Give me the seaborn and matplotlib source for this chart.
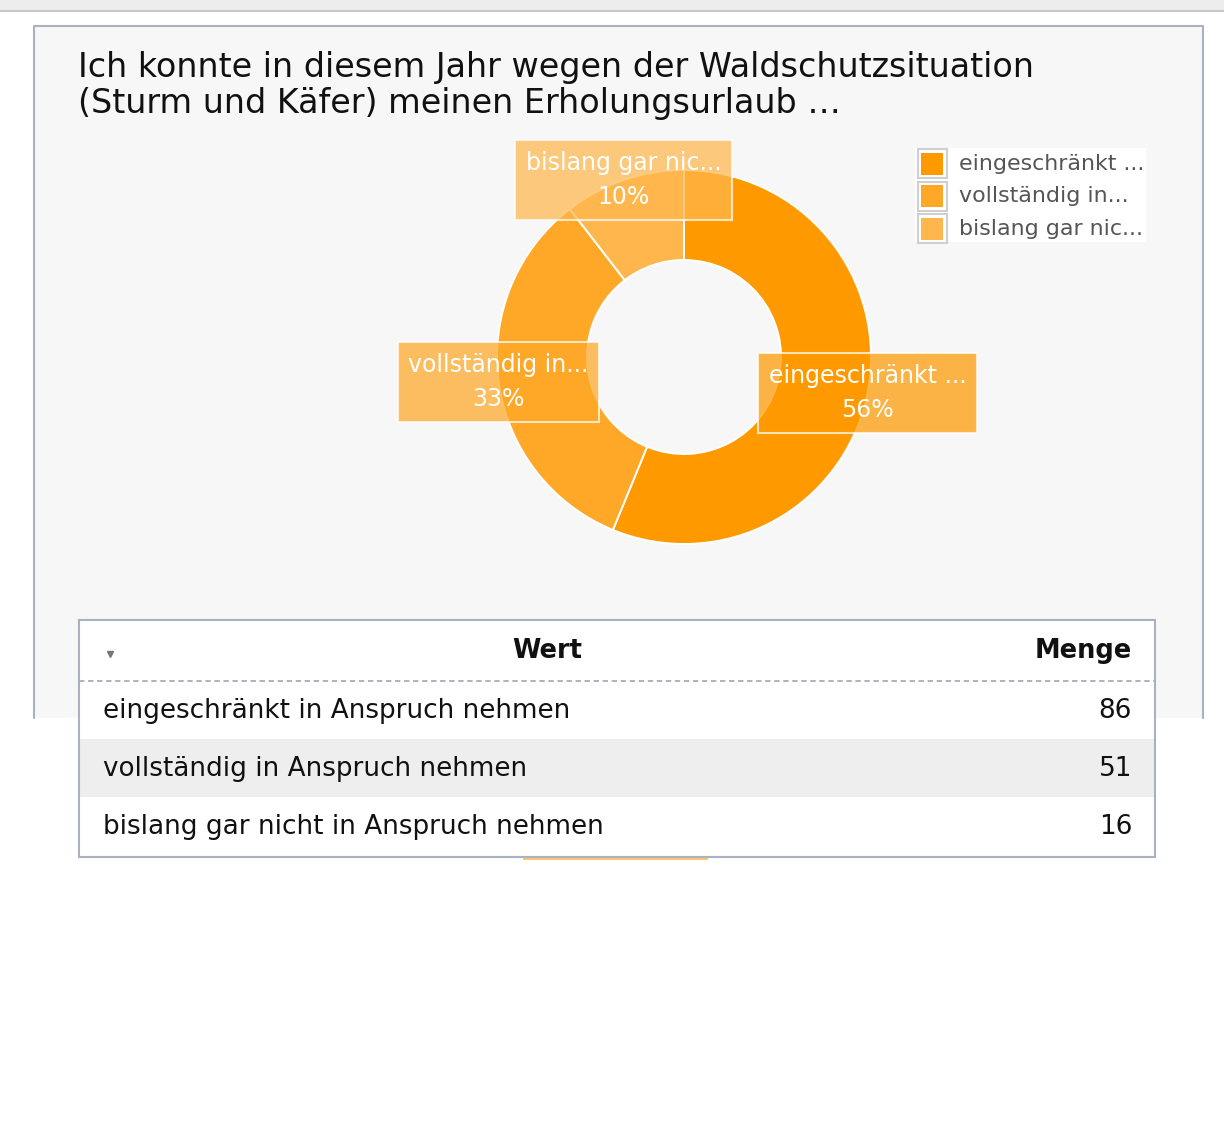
import numpy as np
import matplotlib
matplotlib.use("Agg")
import matplotlib.pyplot as plt
import seaborn as sns
from matplotlib.patches import Rectangle

# ---------------- data ----------------
categories = ["eingeschränkt in Anspruch nehmen",
              "vollständig in Anspruch nehmen",
              "bislang gar nicht in Anspruch nehmen"]
short_labels = ["eingeschränkt ...", "vollständig in...", "bislang gar nic..."]
counts = [86, 51, 16]
col_headers = ["Wert", "Menge"]
title_lines = ["Ich konnte in diesem Jahr wegen der Waldschutzsituation",
               "(Sturm und Käfer) meinen Erholungsurlaub …"]

# ---------------- style ----------------
sns.set_theme(style="white")
plt.rcParams['font.family'] = ['DejaVu Sans']
palette = sns.color_palette(["#ff9900", "#ffa726", "#ffb74d"])

W, H = 1224, 1134
fig = plt.figure(figsize=(W / 100, H / 100), dpi=100)
fig.patch.set_facecolor('white')


def pix_axes(x0, y0, x1, y1, z):
    return fig.add_axes([x0 / W, 1 - y1 / H, (x1 - x0) / W, (y1 - y0) / H], zorder=z)


# background / panel
bg = fig.add_axes([0, 0, 1, 1], zorder=0)
bg.set_xlim(0, W); bg.set_ylim(H, 0); bg.axis('off')
bg.add_patch(Rectangle((0, 0), W, 10, facecolor='#ededed', edgecolor='none'))
bg.plot([0, W], [10.5, 10.5], color='#c8c8c8', lw=1.5)
bg.add_patch(Rectangle((33, 25), 1170, 693, facecolor='#f7f7f7', edgecolor='none'))
bg.plot([33.5, 33.5, 1202.5, 1202.5], [718, 25.5, 25.5, 718], color='#aab1c0', lw=1.5)
for i, line in enumerate(title_lines):
    bg.text(78, 67.5 + 36 * i, line, fontsize=24, color='#111111', ha='left', va='center')

# ---------------- donut ----------------
cx, cy, R, r_in = 684, 357, 187, 97
pax = pix_axes(cx - R, cy - R, cx + R, cy + R, 1)
pax.axis('off')
pax.pie(counts, colors=palette, startangle=90, counterclock=False, radius=1.0,
        wedgeprops=dict(width=(R - r_in) / R, edgecolor='white', linewidth=1.4))
pax.set_xlim(-1, 1); pax.set_ylim(-1, 1)

total = float(sum(counts))
cum = np.cumsum(counts)
for i, (lab, v) in enumerate(zip(short_labels, counts)):
    mid = np.deg2rad(90 - 360 * (cum[i] - v / 2) / total)
    pct = int(round(100 * v / total))
    pax.text(np.cos(mid), np.sin(mid), f"{lab}\n{pct}%", ha='center', va='center',
             color='white', fontsize=17, linespacing=1.55, zorder=5,
             bbox=dict(boxstyle='square,pad=0.45', facecolor=palette[i], alpha=0.72,
                       edgecolor='white', linewidth=1.5))

# ---------------- overlay: legend + table ----------------
ov = fig.add_axes([0, 0, 1, 1], zorder=2)
ov.set_xlim(0, W); ov.set_ylim(H, 0); ov.axis('off')
ov.patch.set_alpha(0)

# legend
ov.add_patch(Rectangle((915, 148), 231, 94, facecolor='white', edgecolor='none'))
for i, lab in enumerate(short_labels):
    yc = 163 + 32.5 * i
    ov.add_patch(Rectangle((917.5, yc - 14), 29, 29, facecolor='white', edgecolor='#cfcfcf', lw=1.5))
    ov.add_patch(Rectangle((921, yc - 10.5), 22, 22, facecolor=palette[i], edgecolor='none'))
    ov.text(959, yc + 1, lab, fontsize=15.9, color='#555555', ha='left', va='center')

# artifact under table
ov.add_patch(Rectangle((523, 856), 185, 4, facecolor='#ffc46e', edgecolor='none'))

# table
tx0, ty0, tx1, ty1 = 79, 620, 1155, 857
ov.add_patch(Rectangle((tx0, ty0), tx1 - tx0, ty1 - ty0, facecolor='white', edgecolor='none'))
row_h = 58
rows_top = 681
for i, (cat, n) in enumerate(zip(categories, counts)):
    y0 = rows_top + row_h * i
    if i % 2 == 1:
        ov.add_patch(Rectangle((tx0, y0), tx1 - tx0, row_h, facecolor='#eeeeee', edgecolor='none'))
    ov.text(103, y0 + row_h / 2 + 1, cat, fontsize=18.9, color='#111111', ha='left', va='center')
    ov.text(1132, y0 + row_h / 2 + 1, str(n), fontsize=18.9, color='#111111', ha='right', va='center')
ov.plot([tx0, tx1], [681, 681], color='#a6adbb', lw=1.3, linestyle=(0, (3, 2)))
ov.add_patch(Rectangle((tx0, ty0), tx1 - tx0, ty1 - ty0, facecolor='none', edgecolor='#aab1c0', lw=1.5))
ov.text(547, 651, col_headers[0], fontsize=18.5, fontweight='bold', color='#111111', ha='center', va='center')
ov.text(1132, 651, col_headers[1], fontsize=18.5, fontweight='bold', color='#111111', ha='right', va='center')
ov.plot([110], [654], marker='v', markersize=5, color='#777777', linestyle='none')

fig.savefig("out.png", dpi=100, facecolor='white')
